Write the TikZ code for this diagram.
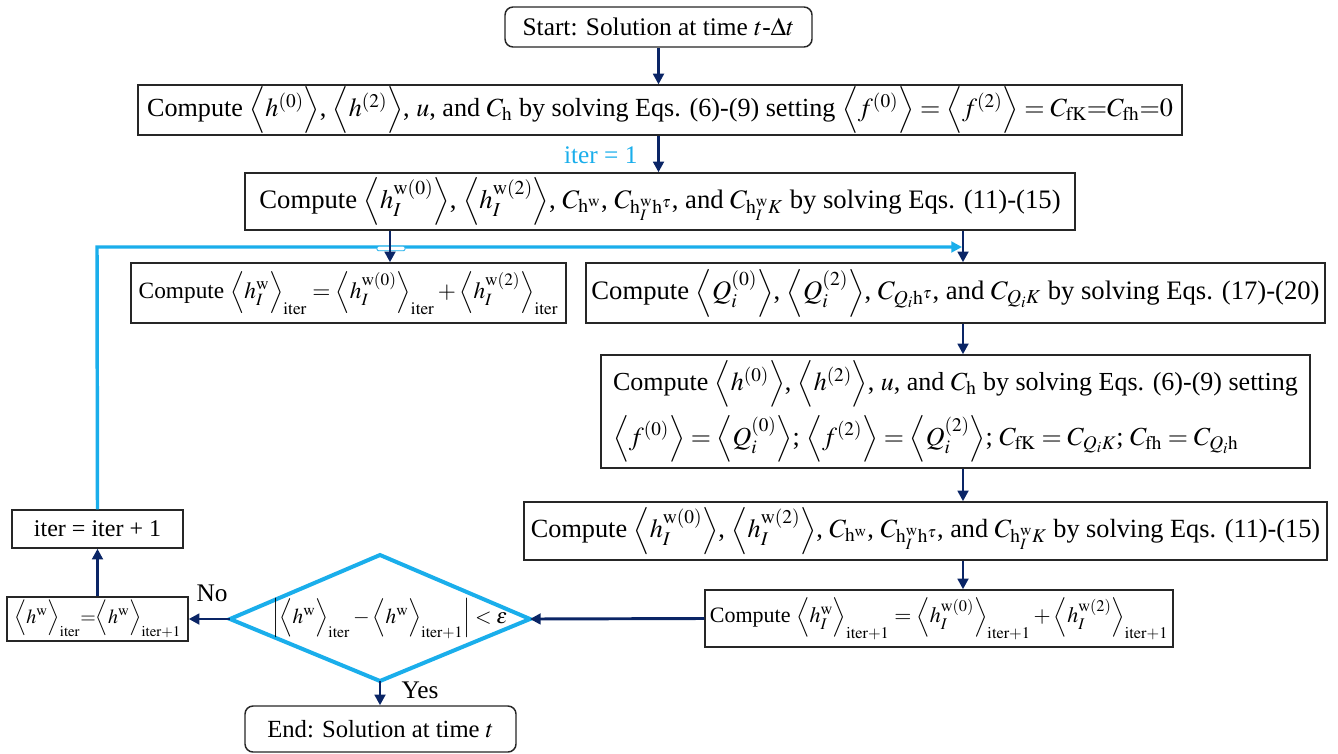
\documentclass[tikz,border=0pt]{standalone}
\usepackage{mathptmx}
\usepackage{fontspec}
\setmainfont{Liberation Serif}
\usetikzlibrary{arrows.meta,calc}
\definecolor{navy}{HTML}{0A2566}
\definecolor{cyanb}{HTML}{1AAEEB}
\newcommand{\AL}[1]{\Big\langle #1\Big\rangle}
\newcommand{\fs}[1]{\fontsize{#1}{#1}\selectfont}
\tikzset{
  box/.style={draw=black!85, line width=1.1pt, fill=white, inner sep=1pt, align=center,
    font=\fs{19}},
  rbox/.style={box, rounded corners=6pt},
  arr/.style={draw=navy, line width=2.2pt, -{Triangle[length=8pt,width=8pt]}},
  carr/.style={draw=cyanb, line width=2.6pt, -{Triangle[length=8pt,width=8pt]}},
  lbl/.style={font=\fs{19}, inner sep=1pt},
}
\begin{document}
\begin{tikzpicture}[x=0.75pt,y=-0.75pt]
\useasboundingbox (0,0) rectangle (1338,753);

\node[rbox, minimum width=230.25pt, minimum height=30pt] (start) at (658.5,27) {Start: Solution at time $t$-$\Delta t$};

\node[box, font=\fs{19.6}, minimum width=783pt, minimum height=36pt] (b2) at (660,110)
 {Compute $\AL{h^{(0)}}$, $\AL{h^{(2)}}$, $u$, and $C_{\mathrm{h}}$ by solving Eqs. (6)-(9) setting $\AL{f^{(0)}}=\AL{f^{(2)}}=C_{\mathrm{fK}}{=}C_{\mathrm{fh}}{=}0$};

\node[box, font=\fs{20}, minimum width=622.5pt, minimum height=42.75pt] (b3) at (660,201.5)
 {Compute $\AL{h_I^{\mathrm{w}(0)}}$, $\AL{h_I^{\mathrm{w}(2)}}$, $C_{\mathrm{h^w}}$, $C_{\mathrm{h}_I^{\mathrm{w}}\mathrm{h}^{\tau}}$, and $C_{\mathrm{h}_I^{\mathrm{w}}K}$ by solving Eqs. (11)-(15)};

\node[box, font=\fs{17.5}, minimum width=326.25pt, minimum height=45pt] (b4) at (348.5,293)
 {Compute $\AL{h_I^{\mathrm{w}}}_{\mathrm{iter}}=\AL{h_I^{\mathrm{w}(0)}}_{\mathrm{iter}}+\AL{h_I^{\mathrm{w}(2)}}_{\mathrm{iter}}$};

\node[box, font=\fs{20}, minimum width=554.25pt, minimum height=45pt] (b5) at (955.5,293)
 {Compute $\AL{Q_i^{(0)}}$, $\AL{Q_i^{(2)}}$, $C_{Q_i\mathrm{h}^{\tau}}$, and $C_{Q_iK}$ by solving Eqs. (17)-(20)};

\node[box, font=\fs{19.5}, minimum width=531.75pt, minimum height=84.75pt, align=left] (b6) at (955.5,411.5)
 {Compute $\AL{h^{(0)}}$, $\AL{h^{(2)}}$, $u$, and $C_{\mathrm{h}}$ by solving Eqs. (6)-(9) setting\\[5pt]
  $\AL{f^{(0)}}=\AL{Q_i^{(0)}}$; $\AL{f^{(2)}}=\AL{Q_i^{(2)}}$; $C_{\mathrm{fK}}=C_{Q_iK}$; $C_{\mathrm{fh}}=C_{Q_i\mathrm{h}}$};

\node[box, font=\fs{19.7}, minimum width=602.25pt, minimum height=43.5pt] (b7) at (925.5,531)
 {Compute $\AL{h_I^{\mathrm{w}(0)}}$, $\AL{h_I^{\mathrm{w}(2)}}$, $C_{\mathrm{h^w}}$, $C_{\mathrm{h}_I^{\mathrm{w}}\mathrm{h}^{\tau}}$, and $C_{\mathrm{h}_I^{\mathrm{w}}K}$ by solving Eqs. (11)-(15)};

\node[box, font=\fs{16.5}, minimum width=351pt, minimum height=42.75pt] (b8) at (939,618.5)
 {Compute $\AL{h_I^{\mathrm{w}}}_{\mathrm{iter}+1}=\AL{h_I^{\mathrm{w}(0)}}_{\mathrm{iter}+1}+\AL{h_I^{\mathrm{w}(2)}}_{\mathrm{iter}+1}$};

% diamond
\coordinate (dT) at (380,555);
\coordinate (dR) at (530,619);
\coordinate (dB) at (380,681);
\coordinate (dL) at (230,619);
\draw[draw=cyanb, line width=3pt, line join=miter] (dT) -- (dR) -- (dB) -- (dL) -- cycle;
\node[lbl, font=\fs{16}] (dia) at (390,619) {$\Big|\AL{h^{\mathrm w}}_{\mathrm{iter}}-\AL{h^{\mathrm w}}_{\mathrm{iter}+1}\Big|<\varepsilon$};

\node[box, minimum width=135.75pt, minimum height=33pt, inner sep=1pt, font=\fs{15}] (b9) at (97.5,619)
 {$\AL{h^{\mathrm w}}_{\mathrm{iter}}{=}\AL{h^{\mathrm w}}_{\mathrm{iter}+1}$};

\node[box, font=\fs{18}, minimum width=128.25pt, minimum height=28.5pt] (it) at (97.5,529) {iter = iter + 1};

\node[rbox, font=\fs{18.5}, minimum width=203.25pt, minimum height=34.5pt] (en) at (380.5,729) {End: Solution at time $t$};

% coordinates for connector x positions
\coordinate (xa) at (390,0);
\coordinate (xb) at (963,0);
\coordinate (cL) at (97,247);
\coordinate (cR) at (962,247);

% cyan loop
\draw[carr] (it.north) -- (cL) -- (cR);
\node[draw=cyanb, fill=white, line width=0.6pt, minimum width=21pt, minimum height=3.5pt, inner sep=0pt, rounded corners=1pt] (bridge) at (391,248.5) {};

% navy connectors
\draw[arr] (start.south) -- (start.south |- b2.north);
\draw[arr] (b2.south -| start.south) -- (b3.north -| start.south);
\node[lbl, text=cyanb, anchor=east] (iter1) at (639,155) {iter = 1};
\draw[arr] (b3.south -| xa) -- (b4.north -| xa);
\draw[arr] (b3.south -| xb) -- (b5.north -| xb);
\draw[arr] (b5.south -| xb) -- (b6.north -| xb);
\draw[arr] (b6.south -| xb) -- (b7.north -| xb);
\draw[arr] (b7.south -| xb) -- (b8.north -| xb);
\draw[arr] (b8.west) -- (dR);
\draw[arr] (dL) -- (b9.east);
\node[lbl] (no) at (212,593) {No};
\draw[arr] (b9.north) -- (it.south);
\draw[arr] (dB) -- (en.north -| dB);
\node[lbl] (yes) at (420,690) {Yes};
\end{tikzpicture}
\end{document}
